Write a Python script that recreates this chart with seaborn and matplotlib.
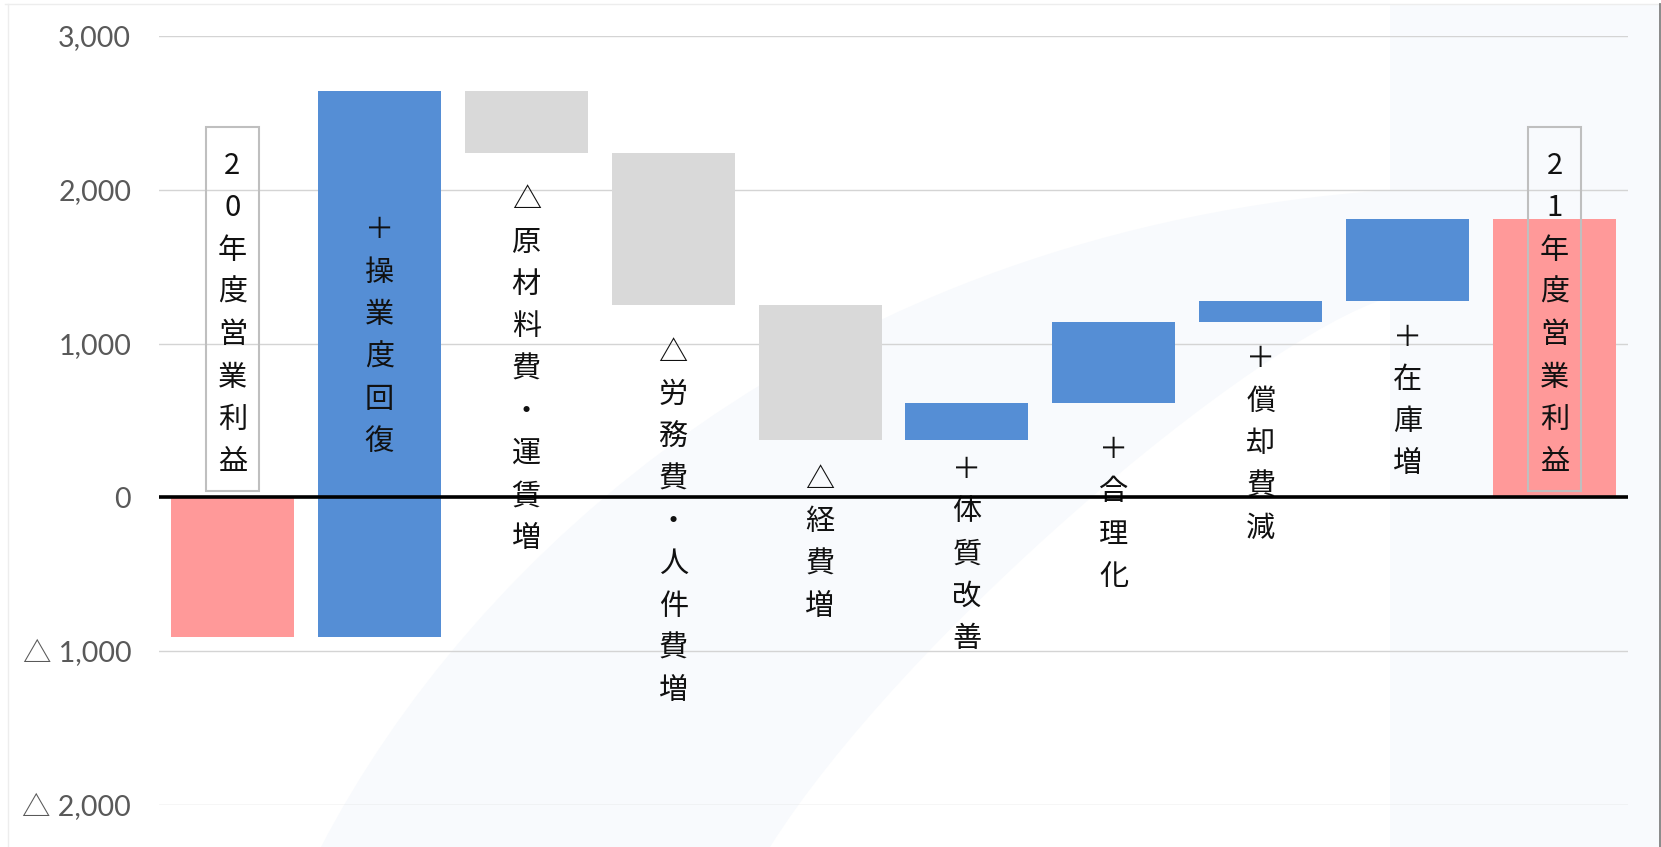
import numpy as np
import pandas as pd
import matplotlib
matplotlib.use("Agg")
import matplotlib.pyplot as plt
from matplotlib.patches import Rectangle, PathPatch
from matplotlib.path import Path
from matplotlib.lines import Line2D
import seaborn as sns

# ---- data -------------------------------------------------------------
categories = ["20年度営業利益", "＋操業度回復", "△原材料費・運賃増", "△労務費・人件費増",
              "△経費増", "＋体質改善", "＋合理化", "＋償却費減", "＋在庫増", "21年度営業利益"]
profit_fy20 = -910
changes = [3550, -400, -990, -880, 245, 525, 135, 538]
bar_kind = ["total", "up", "down", "down", "down", "up", "up", "up", "up", "total"]
y_ticks = [-2000, -1000, 0, 1000, 2000, 3000]
y_tick_labels = ["△ 2,000", "△ 1,000", "0", "1,000", "2,000", "3,000"]

# ---- layout / style ---------------------------------------------------
W, H = 1661, 847
AX_L, AX_R, AX_T, AX_B = 159, 1628, 36, 805
COLORS = {"total": "#FF9999", "up": "#558ED5", "down": "#D9D9D9"}
BG = "#F8FAFD"
LABEL_FONT = ["Noto Sans CJK JP", "DejaVu Sans"]
TICK_FONT = ["Lato", "Noto Sans CJK JP", "DejaVu Sans"]
LABEL_SIZE = 21
PITCH_PX = 42.3
# distance (px) from the upper edge of each change bar to the first text baseline
label_drop_px = [None, 147, 117, 208, 183, 75, 136, 66, 127, None]

plt.rcParams["font.family"] = LABEL_FONT

# waterfall levels
levels = np.concatenate([[profit_fy20], profit_fy20 + np.cumsum(changes)])
profit_fy21 = levels[-1]
heights = [profit_fy20] + list(changes) + [profit_fy21]
bottoms = [0] + list(levels[:-1]) + [0]

fig = plt.figure(figsize=(W / 100, H / 100), dpi=100)
fig.patch.set_facecolor("white")


def fpx(x, y):
    return (x / W, 1 - y / H)


# decorative background: curved swoosh and right-hand panel
verts = [fpx(321, 847), fpx(470, 560), fpx(820, 230), fpx(1390, 190),
         fpx(1390, 297), fpx(1250, 340), fpx(900, 640), fpx(770, 847), fpx(321, 847)]
codes = [Path.MOVETO, Path.CURVE4, Path.CURVE4, Path.CURVE4,
         Path.LINETO, Path.CURVE4, Path.CURVE4, Path.CURVE4, Path.CLOSEPOLY]
fig.add_artist(PathPatch(Path(verts, codes), facecolor=BG, edgecolor="none",
                         transform=fig.transFigure, zorder=-5))
fig.add_artist(Rectangle(fpx(1390, 847), (1659 - 1390) / W, (847 - 4) / H,
                         facecolor=BG, edgecolor="none", transform=fig.transFigure, zorder=-5))
fig.add_artist(Line2D([5 / W, 1659 / W], [1 - 4 / H] * 2, color="#EDEDED", lw=1.0,
                      transform=fig.transFigure, zorder=-4))
fig.add_artist(Line2D([8 / W] * 2, [0, 1 - 4 / H], color="#EDEDED", lw=1.0,
                      transform=fig.transFigure, zorder=-4))
fig.add_artist(Line2D([1659.5 / W] * 2, [0, 1 - 4 / H], color="#808080", lw=1.3,
                      transform=fig.transFigure, zorder=-4))

ax = fig.add_axes([AX_L / W, 1 - AX_B / H, (AX_R - AX_L) / W, (AX_B - AX_T) / H])
ax.set_facecolor("none")

df = pd.DataFrame({"項目": categories, "変動": heights})
sns.barplot(data=df, x="項目", y="変動", bottom=bottoms, width=0.837,
            color=COLORS["up"], saturation=1, errorbar=None, linewidth=0,
            zorder=2, ax=ax)
for patch, kind in zip(ax.patches, bar_kind):
    patch.set_facecolor(COLORS[kind])

ax.set_xlim(-0.5, len(categories) - 0.5)
ax.set_ylim(y_ticks[0], y_ticks[-1])
ax.set_xlabel("")
ax.set_ylabel("")
ax.set_xticks([])
for s in ax.spines.values():
    s.set_visible(False)

ax.set_yticks(y_ticks)
ax.set_yticklabels(y_tick_labels)
for t in ax.get_yticklabels():
    t.set_fontfamily(TICK_FONT)
    t.set_fontsize(20.5)
    t.set_color("#595959")
ax.tick_params(axis="y", length=0, pad=20)
ax.grid(axis="y", color="#D4D4D4", lw=1.0)
ax.set_axisbelow(True)
ax.axhline(0, color="black", lw=2.6, zorder=6)

# value units per pixel on the y axis
upp = (y_ticks[-1] - y_ticks[0]) / (AX_B - AX_T)
pitch = PITCH_PX * upp

for i, (label, kind) in enumerate(zip(categories, bar_kind)):
    chars = list(label)
    if kind == "total":
        # boxed label standing on the zero line
        last_base = 0 + 27.3 * upp
        first_base = last_base + (len(chars) - 1) * pitch
        box_bottom = 6.5 * upp
        box_top = first_base + 46.7 * upp
        bw = 0.36
        ax.add_patch(Rectangle((i - bw / 2, box_bottom), bw, box_top - box_bottom,
                               fill=False, edgecolor="#BFBFBF", lw=1.5, zorder=3))
    else:
        top = max(bottoms[i], bottoms[i] + heights[i])
        first_base = top - label_drop_px[i] * upp
    for j, ch in enumerate(chars):
        ax.text(i, first_base - j * pitch, ch, ha="center", va="baseline",
                fontsize=LABEL_SIZE, color="#111111", family=LABEL_FONT, zorder=4)

fig.savefig("out.png", dpi=100, facecolor="white")
